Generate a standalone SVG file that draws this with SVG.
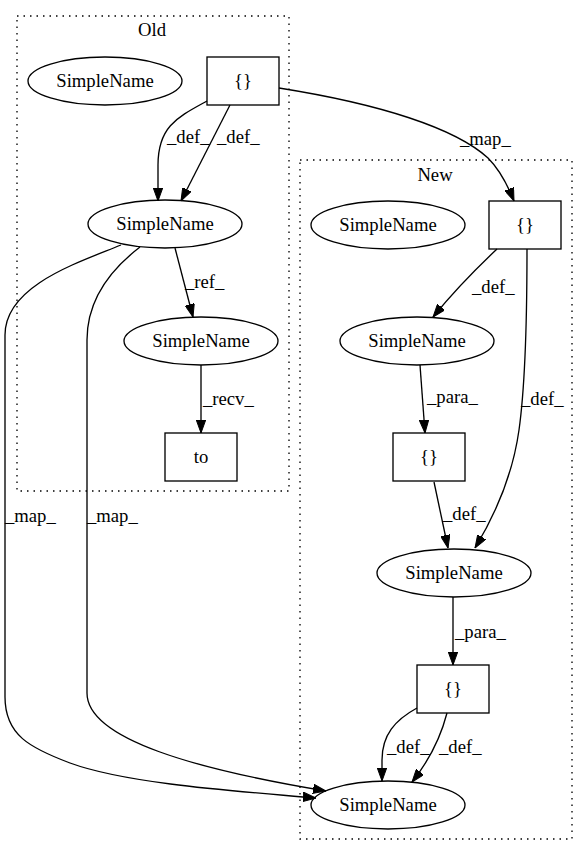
<svg xmlns="http://www.w3.org/2000/svg" width="588" height="856" viewBox="0 0 588 856">
<style>
text{font-family:"Liberation Serif","Times New Roman",serif;font-size:18.67px;fill:#000}
.n{text-anchor:middle}
.shape{fill:none;stroke:#000;stroke-width:1.33}
.cl{fill:none;stroke:#000;stroke-width:1.33;stroke-dasharray:1.5,5}
.e{fill:none;stroke:#000;stroke-width:1.33;marker-end:url(#ah)}
</style>
<defs>
<marker id="ah" viewBox="0 0 13 9.4" refX="13" refY="4.7" markerWidth="13" markerHeight="9.4" markerUnits="userSpaceOnUse" orient="auto">
<path d="M0,0 L13,4.7 L0,9.4 z" fill="#000" stroke="#000" stroke-width="1"/>
</marker>
</defs>
<rect width="588" height="856" fill="#fff"/>
<g id="cluster_old">
<rect class="cl" x="17" y="16" width="272" height="475"/>
<text class="n" x="152" y="36">Old</text>
</g>
<g id="cluster_new">
<rect class="cl" x="300" y="160" width="272" height="679"/>
<text class="n" x="435" y="181">New</text>
</g>
<g id="edges">
<path class="e" d="M207,101 C178,117 158,126 158,165 L158,201"/>
<text x="167" y="143">_def_</text>
<path class="e" d="M230,105 L181,201"/>
<text x="217" y="143">_def_</text>
<path class="e" d="M279,88 C380,104 455,128 488,158 C500,170 508,186 514,201"/>
<text x="460" y="145">_map_</text>
<path class="e" d="M175,248 L193,317"/>
<text x="185" y="288">_ref_</text>
<path class="e" d="M201,365 L201,433"/>
<text x="203" y="405">_recv_</text>
<path class="e" d="M121,245 C80,262 5,285 5,335 L5,697 C5,735 30,748 70,763 C130,785 250,792 316,798"/>
<text x="5" y="522">_map_</text>
<path class="e" d="M140,247 C110,270 87,300 87,340 L87,693 C87,740 200,770 326,791"/>
<text x="87" y="522">_map_</text>
<path class="e" d="M497,249 C480,265 455,290 433,317"/>
<text x="472" y="293">_def_</text>
<path class="e" d="M527,249 C527,300 526,380 519,430 C512,480 492,520 475,548"/>
<text x="521" y="405">_def_</text>
<path class="e" d="M420,365 L425,433"/>
<text x="427" y="403">_para_</text>
<path class="e" d="M434,482 L448,548"/>
<text x="443" y="520">_def_</text>
<path class="e" d="M453,597 L453,665"/>
<text x="455" y="638">_para_</text>
<path class="e" d="M417,708 C395,720 382,735 382,760 L382,781"/>
<text x="387" y="753">_def_</text>
<path class="e" d="M447,713 C440,740 428,762 412,782"/>
<text x="439" y="753">_def_</text>
</g>
<g id="old_sn_iso"><ellipse class="shape" cx="105" cy="81" rx="77" ry="24"/><text class="n" x="105" y="87">SimpleName</text></g>
<g id="old_block"><rect class="shape" x="207" y="57" width="72" height="48"/><text class="n" x="243" y="87">{}</text></g>
<g id="old_sn2"><ellipse class="shape" cx="165" cy="224" rx="77" ry="24"/><text class="n" x="165" y="230">SimpleName</text></g>
<g id="old_sn3"><ellipse class="shape" cx="201" cy="341" rx="77" ry="24"/><text class="n" x="201" y="347">SimpleName</text></g>
<g id="old_to"><rect class="shape" x="165" y="433" width="72" height="48"/><text class="n" x="201" y="463">to</text></g>
<g id="new_sn_iso"><ellipse class="shape" cx="388" cy="225" rx="77" ry="24"/><text class="n" x="388" y="231">SimpleName</text></g>
<g id="new_block1"><rect class="shape" x="489" y="201" width="72" height="48"/><text class="n" x="525" y="231">{}</text></g>
<g id="new_sn2"><ellipse class="shape" cx="417" cy="341" rx="77" ry="24"/><text class="n" x="417" y="347">SimpleName</text></g>
<g id="new_block2"><rect class="shape" x="393" y="433" width="72" height="48"/><text class="n" x="429" y="463">{}</text></g>
<g id="new_sn3"><ellipse class="shape" cx="454" cy="573" rx="77" ry="24"/><text class="n" x="454" y="579">SimpleName</text></g>
<g id="new_block3"><rect class="shape" x="417" y="665" width="72" height="48"/><text class="n" x="453" y="695">{}</text></g>
<g id="new_sn4"><ellipse class="shape" cx="388" cy="805" rx="77" ry="24"/><text class="n" x="388" y="811">SimpleName</text></g>
</svg>
